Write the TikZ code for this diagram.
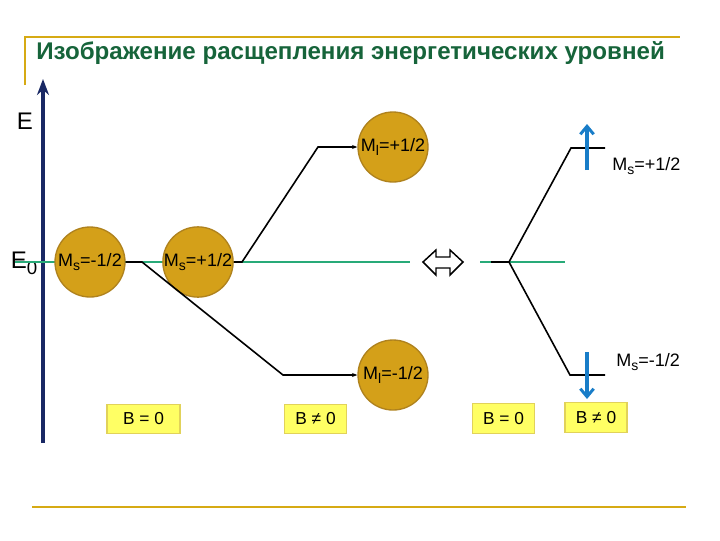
\documentclass[tikz,border=0pt]{standalone}
\usepackage{fontspec}
\setmainfont{Liberation Sans}
\usetikzlibrary{arrows.meta}
\definecolor{goldline}{RGB}{214,170,20}
\definecolor{titlegreen}{RGB}{22,100,58}
\definecolor{navy}{RGB}{25,40,100}
\definecolor{levelgreen}{RGB}{40,170,120}
\definecolor{ballfill}{RGB}{212,160,25}
\definecolor{balledge}{RGB}{175,130,30}
\definecolor{boxfill}{RGB}{255,255,100}
\definecolor{boxedge}{RGB}{225,210,90}
\definecolor{spinblue}{RGB}{25,125,200}
\newcommand{\lowsub}[1]{\raisebox{-0.45ex}{\fontsize{10.5pt}{10pt}\selectfont #1}}
\tikzset{
  ball/.style={circle, fill=ballfill, draw=balledge, line width=1pt, minimum size=52.5pt, inner sep=0pt, font=\fontsize{13.5pt}{15pt}\selectfont},
  bbox/.style={rectangle, fill=boxfill, draw=boxedge, line width=0.8pt, minimum height=22pt, inner sep=2pt, font=\fontsize{13pt}{14pt}\selectfont},
  lvl/.style={line width=1.2pt, black},
  grn/.style={line width=1.1pt, levelgreen},
  spin/.style={line width=2.6pt, spinblue, -{Straight Barb[length=6pt,width=10pt,line width=2.2pt]}},
  lbl/.style={inner sep=0pt, font=\fontsize{13.5pt}{15pt}\selectfont},
}
\begin{document}
\begin{tikzpicture}[x=0.75pt,y=-0.75pt]
\useasboundingbox (0,0) rectangle (720,540);
% frame lines
\draw[goldline, line width=1.5pt] (25,85) -- (25,37) -- (680,37);
\draw[goldline, line width=1.5pt] (32,507) -- (686,507);
\node[anchor=west, inner sep=0pt, text=titlegreen, font=\bfseries\fontsize{18.1pt}{20pt}\selectfont] (title) at (36,53) {Изображение расщепления энергетических уровней};
% axis
\coordinate (ax0) at (43,443);
\coordinate (ax1) at (43,79);
\draw[navy, line width=2.4pt, -{Stealth[length=12pt,width=9pt]}] (ax0) -- (ax1);
\node[lbl, font=\fontsize{18pt}{20pt}\selectfont, anchor=center] (E) at (25,121) {E};
\node[lbl, font=\fontsize{18pt}{20pt}\selectfont, anchor=center] (E0) at (24,263) {E\raisebox{-0.5ex}{\fontsize{14pt}{14pt}\selectfont 0}};
% green levels
\coordinate (g0) at (15,262);
\coordinate (g1) at (410,262);
\coordinate (g2) at (480,262);
\coordinate (g3) at (565,262);
\draw[grn] (g0) -- (g1);
\draw[grn] (g2) -- (g3);
% balls
\node[ball] (b1) at (90,262) {M\lowsub{s}=-1/2};
\node[ball] (b2) at (198,262) {M\lowsub{s}=+1/2};
\node[ball] (b3) at (393,147) {M\lowsub{l}=+1/2};
\node[ball] (b4) at (393,375) {M\lowsub{l}=-1/2};
% left splitting
\coordinate (p1) at (142,262);
\coordinate (p2) at (283,375);
\coordinate (q1) at (242,262);
\coordinate (q2) at (318,147);
\draw[lvl, -{Stealth[length=4pt,width=3pt]}] (b1.east) -- (p1) -- (p2) -- (b4.west);
\draw[lvl, -{Stealth[length=4pt,width=3pt]}] (b2.east) -- (q1) -- (q2) -- (b3.west);
% double arrow
\draw[line width=1.1pt, fill=white] (423,262) -- (436,250) -- (436,257) -- (450,257) -- (450,250) -- (463,262) -- (450,275) -- (450,268) -- (436,268) -- (436,275) -- cycle;
% right splitting
\coordinate (r0) at (491,262);
\coordinate (r1) at (509,262);
\coordinate (ru) at (571,148);
\coordinate (rue) at (605,148);
\coordinate (rd) at (570,375);
\coordinate (rde) at (605,375);
\draw[lvl] (r0) -- (r1) -- (ru) -- (rue);
\draw[lvl] (r1) -- (rd) -- (rde);
\coordinate (su0) at (587,170);
\coordinate (su1) at (587,124);
\coordinate (sd0) at (587,352);
\coordinate (sd1) at (587,399);
\draw[spin] (su0) -- (su1);
\draw[spin] (sd0) -- (sd1);
\node[lbl, anchor=west] (msp) at (612,166) {M\lowsub{s}=+1/2};
\node[lbl, anchor=west] (msm) at (616,362) {M\lowsub{s}=-1/2};
% field boxes
\node[bbox, minimum width=54.75pt] (B1) at (143.5,419) {B = 0};
\node[bbox, minimum width=47pt] (B2) at (315.5,419) {B ≠ 0};
\node[bbox, minimum width=47pt] (B3) at (503.5,418.5) {B = 0};
\node[bbox, minimum width=46.5pt] (B4) at (596,417.5) {B ≠ 0};
\end{tikzpicture}
\end{document}
